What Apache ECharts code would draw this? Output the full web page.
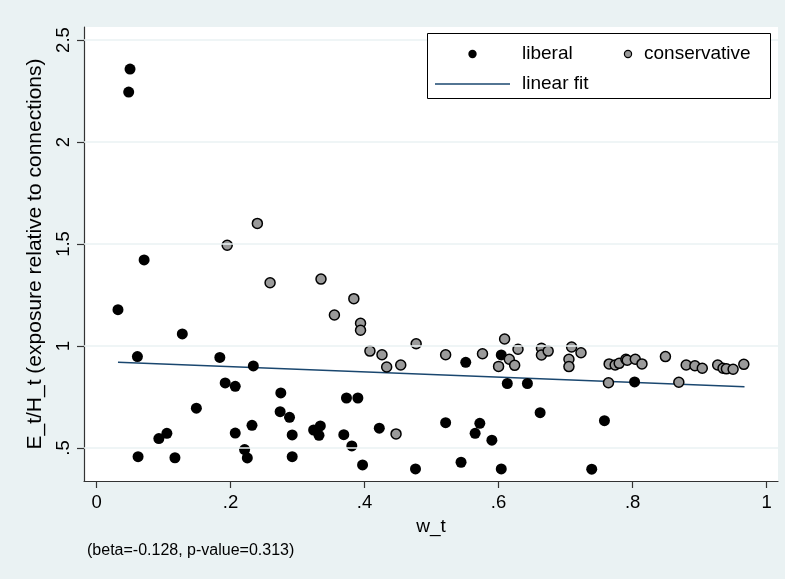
<!DOCTYPE html>
<html>
<head>
<meta charset="utf-8">
<script src="https://cdn.jsdelivr.net/npm/echarts@6/dist/echarts.min.js"></script>
<style>
  html, body { margin: 0; padding: 0; background: #eaf2f3; }
  #chart { width: 785px; height: 579px; }
</style>
</head>
<body>
<div id="chart"></div>
<script>
// w_t vs exposure ratio, split by ideology
var liberal = [
  [0.032, 1.178], [0.048, 2.245], [0.050, 2.358], [0.061, 0.948], [0.062, 0.457],
  [0.071, 1.422], [0.093, 0.546], [0.105, 0.572], [0.117, 0.452], [0.128, 1.059],
  [0.149, 0.695], [0.184, 0.944], [0.192, 0.819], [0.207, 0.802], [0.207, 0.573],
  [0.221, 0.492], [0.225, 0.451], [0.232, 0.611], [0.234, 0.902], [0.274, 0.678],
  [0.275, 0.770], [0.288, 0.650], [0.292, 0.564], [0.292, 0.457], [0.324, 0.588],
  [0.332, 0.562], [0.334, 0.608], [0.369, 0.565], [0.373, 0.745], [0.381, 0.510],
  [0.390, 0.745], [0.397, 0.417], [0.422, 0.597], [0.476, 0.397], [0.521, 0.624],
  [0.544, 0.430], [0.551, 0.920], [0.565, 0.572], [0.572, 0.621], [0.590, 0.538],
  [0.604, 0.397], [0.604, 0.956], [0.613, 0.816], [0.643, 0.816], [0.662, 0.673],
  [0.739, 0.396], [0.758, 0.634], [0.803, 0.824]
];

var conservative = [
  [0.195, 1.494], [0.240, 1.601], [0.259, 1.310], [0.335, 1.328], [0.355, 1.152],
  [0.384, 1.232], [0.394, 1.111], [0.394, 1.077], [0.408, 0.975], [0.426, 0.957],
  [0.433, 0.897], [0.447, 0.569], [0.454, 0.907], [0.477, 1.011], [0.521, 0.957],
  [0.576, 0.962], [0.600, 0.900], [0.609, 1.034], [0.616, 0.935], [0.624, 0.905],
  [0.629, 0.984], [0.664, 0.989], [0.664, 0.956], [0.674, 0.975], [0.705, 0.935],
  [0.705, 0.899], [0.709, 0.995], [0.723, 0.967], [0.764, 0.820], [0.765, 0.912],
  [0.774, 0.907], [0.780, 0.915], [0.790, 0.935], [0.792, 0.930], [0.804, 0.935],
  [0.814, 0.912], [0.849, 0.948], [0.869, 0.822], [0.880, 0.907], [0.893, 0.903],
  [0.904, 0.891], [0.927, 0.907], [0.935, 0.891], [0.940, 0.888], [0.950, 0.886],
  [0.966, 0.910]
];

// fitted line endpoints (beta = -0.128)
var fitLine = [[0.032, 0.920], [0.967, 0.800]];

var xTicks = [0, 0.2, 0.4, 0.6, 0.8, 1];
var xTickLabels = ['0', '.2', '.4', '.6', '.8', '1'];
var yTicks = [0.5, 1, 1.5, 2, 2.5];
var yTickLabels = ['.5', '1', '1.5', '2', '2.5'];

var FONT = '"Liberation Sans", Arial, Helvetica, sans-serif';
var LIBERAL_COLOR = '#000000';
var CONSERVATIVE_COLOR = '#9a9a9a';
var FIT_COLOR = '#1a476f';

function tickLabel(ticks, labels) {
  return function (v) {
    for (var i = 0; i < ticks.length; i++) {
      if (Math.abs(ticks[i] - v) < 1e-9) return labels[i];
    }
    return '';
  };
}

var chart = echarts.init(document.getElementById('chart'), null, { renderer: 'canvas' });

// key box in the upper right of the plot
var keyFont = '19px ' + FONT;
var keyGraphics = [
  {
    type: 'rect', z: 10,
    shape: { x: 427.5, y: 33.5, width: 343, height: 65 },
    style: { fill: '#ffffff', stroke: '#000', lineWidth: 1 }
  },
  {
    type: 'circle', z: 11,
    shape: { cx: 472.5, cy: 54, r: 4.2 },
    style: { fill: LIBERAL_COLOR }
  },
  {
    type: 'text', z: 11, x: 522, y: 54,
    style: { text: 'liberal', fill: '#000', font: keyFont, verticalAlign: 'middle' }
  },
  {
    type: 'circle', z: 11,
    shape: { cx: 628, cy: 54, r: 3.6 },
    style: { fill: CONSERVATIVE_COLOR, stroke: '#000', lineWidth: 1.2 }
  },
  {
    type: 'text', z: 11, x: 644, y: 54,
    style: { text: 'conservative', fill: '#000', font: keyFont, verticalAlign: 'middle' }
  },
  {
    type: 'line', z: 11,
    shape: { x1: 435, y1: 84, x2: 510, y2: 84 },
    style: { stroke: FIT_COLOR, lineWidth: 1.6 }
  },
  {
    type: 'text', z: 11, x: 522, y: 84,
    style: { text: 'linear fit', fill: '#000', font: keyFont, verticalAlign: 'middle' }
  },
  {
    type: 'text', z: 11, left: 87, top: 543,
    style: { text: '(beta=-0.128, p-value=0.313)', fill: '#000', font: '16px ' + FONT }
  }
];

chart.setOption({
  backgroundColor: '#eaf2f3',
  animation: false,
  grid: {
    left: 84, right: 7, top: 27, bottom: 98,
    show: true, backgroundColor: '#ffffff', borderWidth: 0
  },
  xAxis: {
    type: 'value',
    min: -0.0187, max: 1.017,
    name: 'w_t',
    nameLocation: 'middle',
    nameGap: 31,
    nameTextStyle: { color: '#000', fontSize: 19, fontFamily: FONT },
    axisLine: { show: true, onZero: false, lineStyle: { color: '#333', width: 1.2 } },
    axisTick: { show: true, length: 7, customValues: xTicks, lineStyle: { color: '#333', width: 1.2 } },
    axisLabel: {
      customValues: xTicks, margin: 12, color: '#000', fontSize: 18.5, fontFamily: FONT,
      formatter: tickLabel(xTicks, xTickLabels)
    },
    splitLine: { show: false }
  },
  yAxis: {
    type: 'value',
    min: 0.338, max: 2.564,
    name: 'E_t/H_t (exposure relative to connections)',
    nameLocation: 'middle',
    nameGap: 31,
    nameTextStyle: { color: '#000', fontSize: 21, fontFamily: FONT },
    axisLine: { show: true, onZero: false, lineStyle: { color: '#333', width: 1.2 } },
    axisTick: { show: true, length: 7, customValues: yTicks, lineStyle: { color: '#333', width: 1.2 } },
    axisLabel: {
      customValues: yTicks, margin: 11, rotate: 90, color: '#000', fontSize: 18.5, fontFamily: FONT,
      formatter: tickLabel(yTicks, yTickLabels)
    },
    splitLine: { show: false }
  },
  graphic: { elements: keyGraphics },
  series: [
    {
      name: 'linear fit',
      type: 'line',
      data: fitLine,
      symbol: 'none',
      lineStyle: { color: FIT_COLOR, width: 1.6 },
      itemStyle: { color: FIT_COLOR },
      z: 1,
      markLine: {
        silent: true,
        symbol: ['none', 'none'],
        label: { show: false },
        lineStyle: { color: '#eaf2f3', width: 1.5, type: 'solid' },
        data: yTicks.map(function (v) { return { yAxis: v }; })
      }
    },
    {
      name: 'liberal',
      type: 'scatter',
      data: liberal,
      symbol: 'circle',
      symbolSize: 11,
      itemStyle: { color: LIBERAL_COLOR, opacity: 1 },
      z: 3
    },
    {
      name: 'conservative',
      type: 'scatter',
      data: conservative,
      symbol: 'circle',
      symbolSize: 10,
      itemStyle: { color: CONSERVATIVE_COLOR, borderColor: '#000000', borderWidth: 1.5, opacity: 1 },
      z: 4
    }
  ]
});
</script>
</body>
</html>
